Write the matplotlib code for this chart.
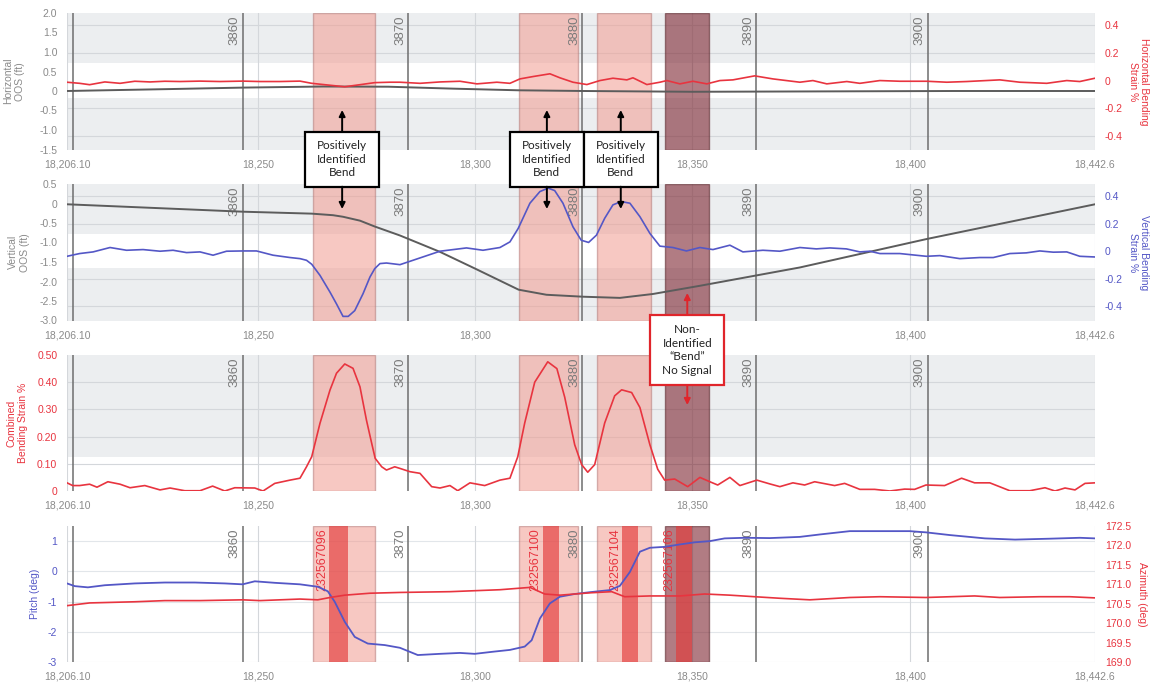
import matplotlib.pyplot as plt
import matplotlib.transforms as mtransforms
from matplotlib.patches import Rectangle, FancyArrowPatch
from matplotlib.ticker import FuncFormatter

plt.rcParams["font.family"] = ["Liberation Sans", "DejaVu Sans"]
plt.rcParams["axes.unicode_minus"] = False

# ---------------- data ----------------
x_range = (18206.1, 18442.6)
x_ticks = [18206.1, 18250, 18300, 18350, 18400, 18442.6]
x_tick_labels = ["18,206.10", "18,250", "18,300", "18,350", "18,400", "18,442.6"]

joint_pos = [18207.5, 18246.5, 18284.6, 18324.6, 18364.7, 18404.1]
joint_labels = ["", "3860", "3870", "3880", "3890", "3900"]

bend_bands = [(18262.6, 18277.0), (18310.0, 18323.7), (18328.1, 18340.5)]
missed_band = (18343.7, 18353.7)

imu_marks = [(18266.4, 18270.7), (18315.5, 18319.2), (18333.8, 18337.5), (18346.2, 18350.0)]
imu_labels = ["232567096", "232567100", "232567104", "232567106"]

# horizontal out-of-straightness (ft) and horizontal bending strain (%)
h_oos_x = [18206.1, 18230, 18246.5, 18265, 18280, 18295, 18310, 18325, 18350, 18380, 18410, 18442.6]
h_oos_y = [0.0, 0.05, 0.087, 0.115, 0.11, 0.06, 0.018, 0.0, -0.02, -0.01, 0.0, 0.0]

h_strain_x = [18206.1, 18209.0, 18211.3, 18214.8, 18218.3, 18221.7, 18225.2, 18228.6, 18232.1, 18236.7,
              18241.3, 18246.5, 18250.5, 18255.1, 18259.7, 18262.4, 18265.4, 18270.0, 18273.5, 18276.9,
              18280.4, 18282.7, 18287.3, 18291.9, 18296.5, 18300.4, 18305.0, 18308.0, 18310.3, 18313.3,
              18317.2, 18319.5, 18322.5, 18325.7, 18328.7, 18331.7, 18334.9, 18336.3, 18339.5, 18342.5,
              18344.1, 18347.1, 18350.1, 18353.3, 18356.3, 18359.3, 18364.3, 18368.5, 18374.7, 18377.7,
              18380.9, 18385.5, 18388.5, 18393.1, 18397.7, 18403.9, 18408.5, 18413.1, 18420.7, 18425.3,
              18431.5, 18436.1, 18439.1, 18442.6]
h_strain_y = [-0.012, -0.02, -0.03, -0.01, -0.02, -0.005, -0.01, -0.005, -0.007, -0.004,
              -0.007, -0.004, -0.007, -0.007, -0.004, -0.02, -0.03, -0.045, -0.03, -0.015,
              -0.012, -0.012, -0.02, -0.01, -0.005, -0.024, -0.012, -0.02, 0.012, 0.029,
              0.049, 0.02, -0.012, -0.029, 0.0, 0.017, 0.005, 0.02, -0.029, -0.012,
              0.0, -0.024, -0.005, -0.024, 0.0, 0.005, 0.034, 0.012, -0.012, 0.0,
              -0.024, -0.007, -0.02, 0.0, -0.005, -0.005, -0.012, -0.007, 0.005, -0.012,
              -0.02, 0.0, -0.007, 0.017]

# vertical out-of-straightness (ft) and vertical bending strain (%)
v_oos_x = [18206.1, 18246.5, 18262.4, 18267.3, 18269.6, 18273.5, 18276.9, 18282.7, 18291.9, 18300.0,
           18310.0, 18316.4, 18324.8, 18333.3, 18340.9, 18351.7, 18374.7, 18403.9, 18442.6]
v_oos_y = [-0.02, -0.21, -0.26, -0.30, -0.34, -0.44, -0.59, -0.82, -1.24, -1.67,
           -2.21, -2.34, -2.39, -2.42, -2.32, -2.11, -1.64, -0.91, -0.02]

v_strain_x = [18206.1, 18209.0, 18212.1, 18216.0, 18219.8, 18223.6, 18227.5, 18230.5, 18233.6, 18236.7,
              18239.7, 18242.8, 18246.6, 18249.7, 18253.5, 18257.4, 18259.7, 18261.2, 18262.4, 18264.3,
              18266.6, 18268.1, 18269.6, 18270.8, 18272.3, 18274.2, 18275.8, 18276.9, 18278.1, 18279.6,
              18282.7, 18290.3, 18291.9, 18298.0, 18301.8, 18305.7, 18308.0, 18309.9, 18312.6, 18314.9,
              18316.8, 18318.3, 18320.2, 18322.5, 18324.4, 18326.1, 18327.9, 18329.8, 18331.7, 18333.6,
              18335.6, 18337.9, 18340.2, 18342.5, 18345.5, 18348.6, 18351.7, 18354.7, 18358.6, 18361.6,
              18366.2, 18370.1, 18374.7, 18378.5, 18381.6, 18385.4, 18388.5, 18390.8, 18393.1, 18397.7,
              18403.8, 18406.9, 18411.5, 18416.1, 18419.2, 18423.0, 18426.8, 18429.9, 18433.0, 18436.1,
              18439.1, 18442.6]
v_strain_y = [-0.037, -0.017, -0.005, 0.027, 0.007, 0.012, 0.0, 0.007, -0.01, -0.005,
              -0.029, 0.0, 0.002, 0.002, -0.029, -0.046, -0.054, -0.066, -0.095, -0.176,
              -0.298, -0.384, -0.475, -0.475, -0.433, -0.31, -0.188, -0.127, -0.09, -0.086,
              -0.098, -0.017, 0.0, 0.024, 0.007, 0.027, 0.068, 0.166, 0.35, 0.435,
              0.46, 0.442, 0.35, 0.178, 0.08, 0.064, 0.117, 0.24, 0.338, 0.362,
              0.35, 0.252, 0.13, 0.037, 0.027, 0.002, 0.027, 0.012, 0.044, -0.005,
              0.007, 0.0, 0.027, 0.017, 0.024, 0.017, -0.005, 0.0, -0.017, -0.017,
              -0.037, -0.032, -0.054, -0.046, -0.046, -0.017, -0.012, 0.002, -0.007, -0.005,
              -0.037, -0.042]

# combined bending strain (%)
c_strain_x = [18206.1, 18207.4, 18209.0, 18211.3, 18213.0, 18215.5, 18218.3, 18220.6, 18224.0, 18227.5,
              18229.8, 18233.2, 18236.7, 18239.6, 18242.4, 18244.7, 18249.3, 18251.2, 18253.9, 18257.4,
              18259.7, 18261.2, 18262.4, 18264.3, 18266.6, 18268.1, 18270.0, 18271.9, 18273.5, 18275.0,
              18276.2, 18277.0, 18278.5, 18279.6, 18281.5, 18282.7, 18285.0, 18287.3, 18290.0, 18291.9,
              18294.2, 18296.0, 18298.8, 18302.2, 18305.7, 18308.0, 18309.8, 18311.4, 18313.7, 18316.7,
              18318.8, 18320.6, 18322.9, 18324.5, 18325.9, 18327.5, 18329.8, 18332.1, 18333.7, 18336.0,
              18337.9, 18340.2, 18342.0, 18343.6, 18345.9, 18348.9, 18351.7, 18354.0, 18355.8, 18358.6,
              18360.9, 18364.8, 18367.8, 18370.1, 18373.1, 18375.8, 18378.1, 18382.7, 18385.0, 18388.5,
              18391.9, 18395.4, 18398.8, 18401.1, 18403.7, 18408.0, 18411.9, 18414.9, 18418.4, 18423.0,
              18427.6, 18431.1, 18433.4, 18435.7, 18438.0, 18440.3, 18442.6]
c_strain_y = [0.03, 0.02, 0.02, 0.025, 0.014, 0.034, 0.025, 0.012, 0.02, 0.004,
              0.011, 0.001, 0.001, 0.018, 0.0, 0.012, 0.011, 0.0, 0.028, 0.04,
              0.047, 0.089, 0.126, 0.249, 0.371, 0.433, 0.467, 0.451, 0.383, 0.26,
              0.175, 0.12, 0.089, 0.077, 0.089, 0.083, 0.071, 0.065, 0.016, 0.011,
              0.02, 0.001, 0.03, 0.02, 0.04, 0.047, 0.126, 0.25, 0.4, 0.475,
              0.45, 0.345, 0.17, 0.097, 0.069, 0.097, 0.25, 0.35, 0.372, 0.362,
              0.307, 0.17, 0.08, 0.04, 0.044, 0.016, 0.05, 0.034, 0.022, 0.05,
              0.02, 0.04, 0.026, 0.016, 0.03, 0.022, 0.034, 0.02, 0.028, 0.006,
              0.006, 0.0, 0.007, 0.006, 0.022, 0.02, 0.047, 0.03, 0.03, 0.001,
              0.001, 0.012, 0.0, 0.011, 0.004, 0.028, 0.03]

# pitch (deg) and azimuth (deg)
pitch_x = [18206.1, 18207.9, 18210.9, 18214.8, 18221.7, 18228.6, 18235.5, 18242.4, 18246.5, 18249.3,
           18253.9, 18259.7, 18263.8, 18266.1, 18267.7, 18270.0, 18272.3, 18275.3, 18279.2, 18282.7,
           18286.8, 18291.9, 18296.5, 18299.9, 18304.1, 18308.0, 18311.4, 18313.0, 18314.9, 18317.2,
           18319.5, 18322.9, 18326.4, 18331.0, 18333.3, 18335.6, 18337.9, 18340.2, 18343.6, 18347.1,
           18350.5, 18354.0, 18357.4, 18362.0, 18367.8, 18374.7, 18379.3, 18386.2, 18393.1, 18400.0,
           18403.7, 18409.2, 18417.3, 18424.2, 18432.2, 18439.1, 18442.6]
pitch_y = [-0.4, -0.49, -0.53, -0.46, -0.4, -0.37, -0.37, -0.4, -0.43, -0.33,
           -0.38, -0.43, -0.51, -0.66, -1.01, -1.67, -2.17, -2.39, -2.44, -2.53,
           -2.77, -2.73, -2.7, -2.73, -2.66, -2.6, -2.49, -2.28, -1.56, -1.06,
           -0.84, -0.75, -0.69, -0.62, -0.48, -0.02, 0.65, 0.78, 0.81, 0.89,
           0.96, 1.0, 1.09, 1.11, 1.1, 1.14, 1.22, 1.33, 1.33, 1.33,
           1.29, 1.2, 1.09, 1.05, 1.08, 1.11, 1.09]

az_x = [18206.1, 18211.3, 18221.7, 18228.6, 18236.7, 18246.5, 18250.5, 18259.7, 18263.8, 18266.6,
        18270.0, 18275.8, 18282.7, 18294.2, 18305.7, 18312.6, 18316.0, 18319.5, 18326.4, 18331.4,
        18334.4, 18340.2, 18347.1, 18352.8, 18358.6, 18364.3, 18370.1, 18377.0, 18386.2, 18393.1,
        18403.7, 18414.9, 18420.7, 18429.9, 18436.8, 18442.6]
az_y = [170.45, 170.52, 170.55, 170.58, 170.58, 170.6, 170.58, 170.62, 170.6, 170.66,
        170.72, 170.77, 170.79, 170.81, 170.86, 170.92, 170.75, 170.72, 170.78, 170.81,
        170.68, 170.7, 170.7, 170.75, 170.72, 170.68, 170.64, 170.6, 170.66, 170.68,
        170.66, 170.7, 170.66, 170.68, 170.68, 170.65]

# callout boxes (x of box centre, in chainage)
found_box_x = [18269.4, 18316.5, 18333.5]
missed_box_x = 18348.8

# ---------------- style ----------------
GRAY_BG = "#eceef0"
GRID = "#d4d7db"
TXT = "#8a8a8a"
RED = "#e8343f"
BLUE = "#5457c6"
DARK = "#5c5c5c"

W, H = 1157, 688
fig = plt.figure(figsize=(W / 100, H / 100), dpi=100)


def panel(top, bottom):
    return fig.add_axes([67 / W, 1 - bottom / H, 1028 / W, (bottom - top) / H])


def xdata_yaxes(ax):
    return mtransforms.blended_transform_factory(ax.transData, ax.transAxes)


def fmt(decimals):
    return FuncFormatter(lambda v, p: "0" if abs(v) < 1e-9 else f"{v:.{decimals}f}")


def base(ax, bg, serials=False, hide_x=()):
    ax.set_xlim(x_range)
    ax.set_facecolor(bg)
    for s in ax.spines.values():
        s.set_visible(False)
    ax.set_xticks(x_ticks)
    ax.set_xticklabels(["" if lab in hide_x else lab for lab in x_tick_labels])
    ax.tick_params(length=0, labelsize=7.5, colors=TXT, pad=7)
    for xt in x_ticks:
        ax.axvline(xt, color=GRID, lw=0.8, zorder=0.5)
    for lo, hi in bend_bands:
        ax.axvspan(lo, hi, facecolor="#f29b90", edgecolor="#b47a78", alpha=0.55, lw=1, zorder=1)
    ax.axvspan(*missed_band, facecolor="#7d2530", edgecolor="#5e2a30", alpha=0.6, lw=1, zorder=1)
    if serials:
        for (lo, hi), lab in zip(imu_marks, imu_labels):
            ax.axvspan(lo, hi, facecolor="#e33a3a", alpha=0.65, lw=0, zorder=1.2)
            ax.text(lo - 0.2, 0.985, lab, transform=xdata_yaxes(ax), rotation=90,
                    ha="right", va="top", fontsize=9, color=RED, zorder=2)
    for xj, lab in zip(joint_pos, joint_labels):
        ax.axvline(xj, color="#6e6e6e", lw=1.1, zorder=1.5)
        if lab:
            ax.text(xj - 0.4, 0.985, lab, transform=xdata_yaxes(ax), rotation=90,
                    ha="right", va="top", fontsize=9.5, color="#7a7a7a", zorder=2)


def right_axis(ax, ylim, ticks, color, label, decimals, label_x):
    axr = ax.twinx()
    for s in axr.spines.values():
        s.set_visible(False)
    axr.set_ylim(ylim)
    axr.set_yticks(ticks)
    axr.yaxis.set_major_formatter(fmt(decimals))
    axr.tick_params(length=0, labelsize=7.5, colors=color, pad=7)
    for t in axr.get_yticklabels():
        t.set_ha("left")
    axr.set_ylabel(label, rotation=270, va="bottom", color=color, fontsize=7.5)
    axr.yaxis.set_label_coords(label_x, 0.5)
    return axr


def band_from_right(ax, axr, lo, hi, ticks):
    tr = mtransforms.blended_transform_factory(ax.transAxes, axr.transData)
    ax.add_patch(Rectangle((0, lo), 1, hi - lo, transform=tr, facecolor="white",
                           edgecolor="none", zorder=0.2))
    for v in ticks:
        ax.plot([0, 1], [v, v], transform=tr, color=GRID, lw=0.8, zorder=0.4)


def left_label(ax, text, color, x):
    ax.set_ylabel(text, color=color, fontsize=7.5)
    ax.yaxis.set_label_coords(x, 0.5)


# ---- panel 1: horizontal ----
ax1 = panel(13, 149.5)
base(ax1, GRAY_BG)
ax1.set_ylim(-1.5, 2.0)
ax1.set_yticks([2.0, 1.5, 1.0, 0.5, 0, -0.5, -1.0, -1.5])
ax1.yaxis.set_major_formatter(fmt(1))
left_label(ax1, "Horizontal\nOOS (ft)", TXT, -0.041)
ax1r = right_axis(ax1, (-0.50, 0.49), [0.4, 0.2, 0, -0.2, -0.4], RED,
                  "Horizontal Bending\nStrain %", 1, 1.032)
band_from_right(ax1, ax1r, -0.125, 0.125, [0.4, 0.2, -0.2, -0.4])
ax1.plot(h_oos_x, h_oos_y, color=DARK, lw=1.4, zorder=3)
ax1r.plot(h_strain_x, h_strain_y, color=RED, lw=1.2)

# ---- panel 2: vertical ----
ax2 = panel(184, 320.5)
base(ax2, GRAY_BG, hide_x=("18,350",))
ax2.set_ylim(-3.0, 0.5)
ax2.set_yticks([0.5, 0, -0.5, -1.0, -1.5, -2.0, -2.5, -3.0])
ax2.yaxis.set_major_formatter(fmt(1))
left_label(ax2, "Vertical\nOOS (ft)", TXT, -0.036)
ax2r = right_axis(ax2, (-0.505, 0.49), [0.4, 0.2, 0, -0.2, -0.4], BLUE,
                  "Vertical Bending\nStrain %", 1, 1.032)
band_from_right(ax2, ax2r, -0.125, 0.125, [0.4, 0.2, -0.2, -0.4])
ax2.plot(v_oos_x, v_oos_y, color=DARK, lw=1.4, zorder=3)
ax2r.plot(v_strain_x, v_strain_y, color=BLUE, lw=1.2)

# ---- panel 3: combined ----
ax3 = panel(355, 491)
base(ax3, GRAY_BG)
ax3.set_ylim(0, 0.5)
ax3.set_yticks([0.5, 0.4, 0.3, 0.2, 0.1, 0])
ax3.yaxis.set_major_formatter(fmt(2))
ax3.tick_params(axis="y", colors=RED)
left_label(ax3, "Combined\nBending Strain %", RED, -0.038)
ax3.axhspan(0, 0.125, facecolor="white", edgecolor="none", zorder=0.2)
for v in [0.1, 0.2, 0.3, 0.4]:
    ax3.axhline(v, color=GRID, lw=0.8, zorder=0.4)
ax3.plot(c_strain_x, c_strain_y, color=RED, lw=1.2, zorder=3)

# ---- panel 4: pitch / azimuth ----
ax4 = panel(526, 662)
base(ax4, "white", serials=True)
ax4.set_ylim(-3, 1.5)
ax4.set_yticks([1, 0, -1, -2, -3])
ax4.yaxis.set_major_formatter(fmt(0))
ax4.tick_params(axis="y", colors=BLUE)
left_label(ax4, "Pitch (deg)", BLUE, -0.026)
for v in [1, 0, -1, -2, -3]:
    ax4.axhline(v, color="#e2e6ea", lw=0.8, zorder=0.4)
ax4r = right_axis(ax4, (169.0, 172.5), [172.5, 172.0, 171.5, 171.0, 170.5, 170.0, 169.5, 169.0],
                  RED, "Azimuth (deg)", 1, 1.041)
ax4.plot(pitch_x, pitch_y, color=BLUE, lw=1.3, zorder=3)
ax4r.plot(az_x, az_y, color=RED, lw=1.2)

# ---------------- callouts ----------------
tr = mtransforms.blended_transform_factory(ax1.transData, fig.transFigure)
box_w = 17.0


def fy(py):
    return 1 - py / H


def callout(xc, top, bottom, text, color, up_tip, down_tip):
    fig.add_artist(Rectangle((xc - box_w / 2, fy(bottom)), box_w, (bottom - top) / H,
                             transform=tr, facecolor="white", edgecolor=color, lw=1.6, zorder=5))
    fig.text(xc, fy((top + bottom) / 2), text, transform=tr, ha="center", va="center",
             fontsize=8.5, family=["Lato", "DejaVu Sans"], color="#222222",
             linespacing=1.3, zorder=6)
    for a, b in [(top, up_tip), (bottom, down_tip)]:
        fig.add_artist(FancyArrowPatch((xc, fy(a)), (xc, fy(b)), transform=tr,
                                       arrowstyle="-|>", mutation_scale=9, lw=1.4,
                                       color=color, shrinkA=0, shrinkB=0, zorder=6))


for xc in found_box_x:
    callout(xc, 131.7, 186.7, "Positively\nIdentified\nBend", "black", 110, 209)
callout(missed_box_x, 315, 385, "Non-\nIdentified\n\u201cBend\u201d\nNo Signal", "#e0252b", 293, 405)

fig.savefig("out.png", dpi=100)
